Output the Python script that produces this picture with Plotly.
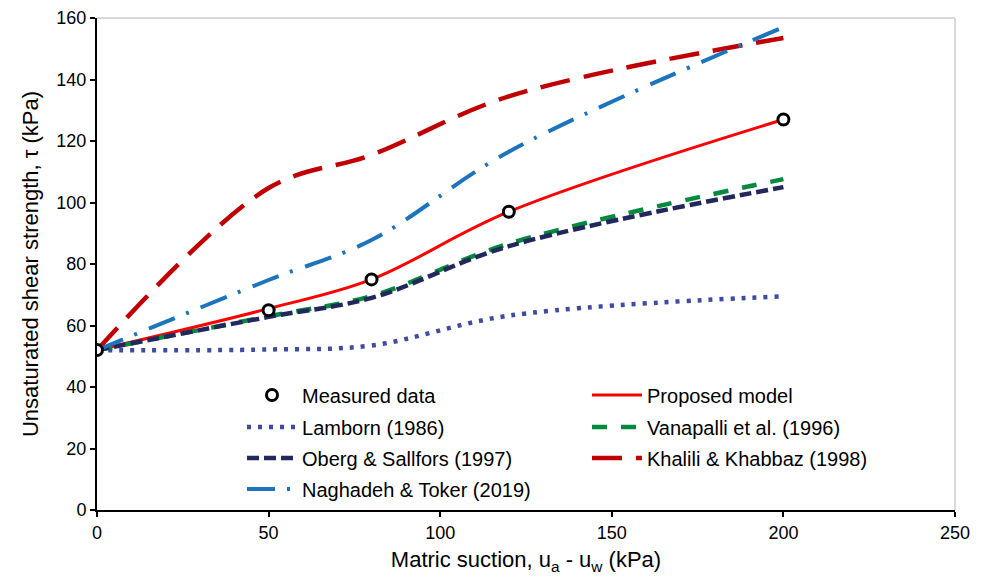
import plotly.graph_objects as go

# Matric suction values (kPa) at which each curve is evaluated
suction = [0, 50, 80, 120, 200]

# Shear strength (kPa)
measured = [52, 65, 75, 97, 127]
proposed = [52, 65.5, 75, 97, 127]
lamborn = [52, 52.2, 53.5, 63.2, 69.5]
vanapalli = [52, 63.0, 69.6, 86.6, 107.6]
oberg = [52, 62.8, 69.0, 85.8, 105.0]
khalili = [52, 104.7, 115.5, 134.5, 153.5]
naghadeh = [52, 74.8, 87.8, 116.5, 157.0]

x_ticks = [0, 50, 100, 150, 200, 250]
y_ticks = [0, 20, 40, 60, 80, 100, 120, 140, 160]

FONT = "Arial, Liberation Sans, sans-serif"

fig = go.Figure()


def model_line(y, name, color, dash, width, legend, rank):
    fig.add_trace(go.Scatter(
        x=suction, y=y, name=name, mode="lines",
        line=dict(color=color, dash=dash, width=width, shape="spline"),
        legend=legend, legendrank=rank,
    ))


model_line(proposed, "Proposed model", "#FF0000", "solid", 3, "legend", 2)
model_line(lamborn, "Lamborn (1986)", "#3F4BA3", "4px,7px", 4.5, "legend2", 1)
model_line(vanapalli, "Vanapalli et al. (1996)", "#008A3E", "15px,14px", 4.5, "legend2", 2)
model_line(oberg, "Oberg & Sallfors (1997)", "#22285C", "12px,5px", 4.5, "legend3", 1)
model_line(khalili, "Khalili & Khabbaz (1998)", "#C00000", "30px,14px", 4.5, "legend3", 2)
model_line(naghadeh, "Naghadeh & Toker (2019)", "#1C74BC", "28px,12px,3px,13px", 4, "legend4", 1)

fig.add_trace(go.Scatter(
    x=suction, y=measured, name="Measured data", mode="markers",
    marker=dict(symbol="circle", size=11, color="white",
                line=dict(color="black", width=3)),
    legend="legend", legendrank=1,
))

legend_common = dict(
    orientation="h", entrywidth=280, entrywidthmode="pixels",
    xanchor="left", yanchor="middle", x=0.169,
    bgcolor="rgba(0,0,0,0)", font=dict(family=FONT, size=20, color="black"),
    itemwidth=50, traceorder="normal",
)
row_px = [395, 427, 458, 489]
plot_top, plot_bottom = 18, 510


def row_y(p):
    return (plot_bottom - p) / (plot_bottom - plot_top)


axis_common = dict(
    showline=True, linecolor="black", linewidth=2,
    ticks="outside", ticklen=5, tickwidth=2, tickcolor="black",
    showgrid=False, zeroline=False, automargin=False,
    tickfont=dict(family=FONT, size=18, color="black"),
)

fig.update_layout(
    width=981, height=583,
    margin=dict(l=97, r=26, t=18, b=73),
    paper_bgcolor="white", plot_bgcolor="white",
    font=dict(family=FONT, color="black"),
    showlegend=True,
    legend=dict(legend_common, y=row_y(row_px[0])),
    legend2=dict(legend_common, y=row_y(row_px[1])),
    legend3=dict(legend_common, y=row_y(row_px[2])),
    legend4=dict(legend_common, y=row_y(row_px[3])),
    xaxis=dict(axis_common, range=[0, 250], tickvals=x_ticks,
               title=dict(text="Matric suction, u<sub>a</sub> - u<sub>w</sub> (kPa)",
                          font=dict(family=FONT, size=22), standoff=10)),
    yaxis=dict(axis_common, range=[0, 160], tickvals=y_ticks,
               title=dict(text="Unsaturated shear strength, τ (kPa)",
                          font=dict(family=FONT, size=22), standoff=12)),
    shapes=[
        dict(type="line", xref="paper", yref="paper", x0=0, x1=1, y0=1, y1=1,
             line=dict(color="#D9D9D9", width=2), layer="below"),
        dict(type="line", xref="paper", yref="paper", x0=1, x1=1, y0=0, y1=1,
             line=dict(color="#D9D9D9", width=2), layer="below"),
    ],
)

fig.write_html("out.html")
